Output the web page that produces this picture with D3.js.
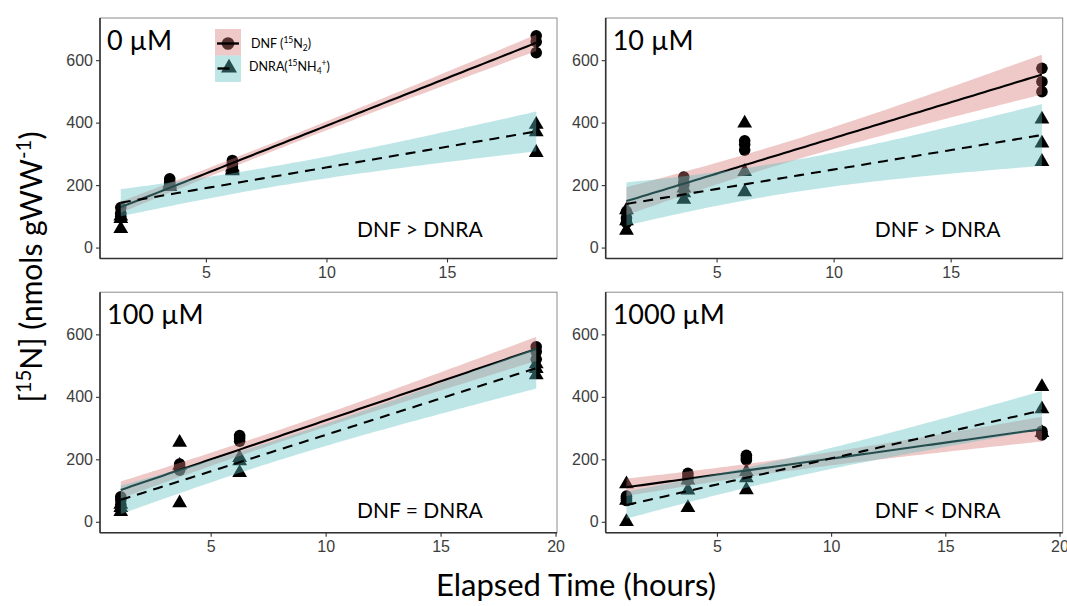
<!DOCTYPE html>
<html>
<head>
<meta charset="utf-8">
<script src="https://cdn.jsdelivr.net/npm/d3@7"></script>
<style>
  body { margin: 0; background: #fff; }
  svg { display: block; }
</style>
</head>
<body>
<svg id="chart" width="1067" height="606"></svg>
<script>
// ---- data --------------------------------------------------------------
const panelLabels = ["0 µM", "10 µM", "100 µM", "1000 µM"];
const comparisonLabels = ["DNF > DNRA", "DNF > DNRA", "DNF = DNRA", "DNF < DNRA"];

// sampling times (hours) for each nitrate treatment
const times0 = [1.47, 3.5, 6.1, 18.7];
const times10 = [1.15, 3.6, 6.2, 18.9];
const times100 = [1.09, 3.65, 6.26, 19.16];
const times1000 = [1.04, 3.73, 6.29, 19.23];

// triplicate [15N] production (nmols gWW-1) at each sampling time
const dnf0 = [[128, 110, 100], [220, 210, 205], [279, 270, 258], [678, 659, 624]];
const dnra0 = [[100, 92, 60], [205, 200, 195], [257, 250, 245], [394, 370, 304]];
const dnf10 = [[115, 95, 80], [226, 210, 200], [342, 330, 312], [574, 531, 499]];
const dnra10 = [[120, 85, 55], [190, 175, 154], [398, 243, 178], [411, 334, 275]];
const dnf100 = [[80, 70, 55], [185, 175, 165], [276, 268, 258], [560, 545, 520]];
const dnra100 = [[55, 45, 32], [254, 180, 60], [205, 195, 157], [505, 490, 470]];
const dnf1000 = [[82, 75, 68], [155, 145, 135], [213, 205, 198], [290, 283, 278]];
const dnra1000 = [[121, 68, 0], [133, 101, 45], [160, 140, 102], [432, 361, 285]];

const yTicks = [0, 200, 400, 600];
const xTicks = [5, 10, 15, 20];
const yLimits = [0, 700];

// ---- layout ------------------------------------------------------------
const svg = d3.select("#chart");
const panelW = 457, panelH = 240.5;
const colLeft = [100, 605.7];
const rowTop = [18, 292.2];
const tCrit = 2.228; // two-sided 95% t quantile, 10 df (12 obs, 2 params)

const dnfFill = "rgb(215,117,117)";
const dnraFill = "rgb(95,192,195)";
const bandAlpha = 0.4;
const textFont = "Lato, 'Open Sans', sans-serif";
const tickFont = "'Liberation Sans', Arial, sans-serif";

const panels = [
  { label: panelLabels[0], cmp: comparisonLabels[0], t: times0, dnf: dnf0, dnra: dnra0, col: 0, row: 0, cmpX: 257, cmpDy: 22 },
  { label: panelLabels[1], cmp: comparisonLabels[1], t: times10, dnf: dnf10, dnra: dnra10, col: 1, row: 0, cmpX: 269, cmpDy: 22 },
  { label: panelLabels[2], cmp: comparisonLabels[2], t: times100, dnf: dnf100, dnra: dnra100, col: 0, row: 1, cmpX: 257, cmpDy: 14.5 },
  { label: panelLabels[3], cmp: comparisonLabels[3], t: times1000, dnf: dnf1000, dnra: dnra1000, col: 1, row: 1, cmpX: 269, cmpDy: 14.5 }
];

// ordinary least squares fit with 95% confidence band
function fitLinear(times, reps) {
  const pts = times.flatMap((ti, i) => reps[i].map(v => [ti, v]));
  const n = pts.length;
  const mx = d3.mean(pts, d => d[0]);
  const my = d3.mean(pts, d => d[1]);
  const sxx = d3.sum(pts, d => (d[0] - mx) ** 2);
  const sxy = d3.sum(pts, d => (d[0] - mx) * (d[1] - my));
  const b = sxy / sxx, a = my - b * mx;
  const s = Math.sqrt(d3.sum(pts, d => (d[1] - a - b * d[0]) ** 2) / (n - 2));
  const lo = d3.min(times), hi = d3.max(times);
  const band = d3.range(80).map(i => {
    const x = lo + (hi - lo) * i / 79;
    const yh = a + b * x;
    const se = s * Math.sqrt(1 / n + (x - mx) ** 2 / sxx);
    return { x, y: yh, lo: yh - tCrit * se, hi: yh + tCrit * se };
  });
  return { pts, band };
}

function expand(lo, hi) {
  const pad = (hi - lo) * 0.05;
  return [lo - pad, hi + pad];
}

panels.forEach(p => {
  const left = colLeft[p.col], top = rowTop[p.row];
  const x = d3.scaleLinear().domain(expand(d3.min(p.t), d3.max(p.t))).range([left, left + panelW]);
  const y = d3.scaleLinear().domain(expand(yLimits[0], yLimits[1])).range([top + panelH, top]);
  const g = svg.append("g");

  const dnfFit = fitLinear(p.t, p.dnf);
  const dnraFit = fitLinear(p.t, p.dnra);

  // observations
  g.selectAll("circle.obs").data(dnfFit.pts).join("circle")
    .attr("class", "obs")
    .attr("cx", d => x(d[0])).attr("cy", d => y(d[1])).attr("r", 5.8)
    .attr("fill", "#000");
  const tri = d3.symbol().type(d3.symbolTriangle).size(95);
  g.selectAll("path.obs").data(dnraFit.pts).join("path")
    .attr("class", "obs")
    .attr("d", tri)
    .attr("transform", d => `translate(${x(d[0])},${y(d[1])})`)
    .attr("fill", "#000");

  const area = d3.area().x(d => x(d.x)).y0(d => y(d.lo)).y1(d => y(d.hi));
  const line = d3.line().x(d => x(d.x)).y(d => y(d.y));

  // DNF band + fit
  g.append("path").datum(dnfFit.band).attr("d", area)
    .attr("fill", dnfFill).attr("fill-opacity", bandAlpha);
  g.append("path").datum(dnfFit.band).attr("d", line)
    .attr("fill", "none").attr("stroke", "#000").attr("stroke-width", 2.1);

  // DNRA band + fit
  g.append("path").datum(dnraFit.band).attr("d", area)
    .attr("fill", dnraFill).attr("fill-opacity", bandAlpha);
  g.append("path").datum(dnraFit.band).attr("d", line)
    .attr("fill", "none").attr("stroke", "#000").attr("stroke-width", 2.1)
    .attr("stroke-dasharray", "10,7");

  // panel border
  g.append("rect")
    .attr("x", left).attr("y", top).attr("width", panelW).attr("height", panelH)
    .attr("fill", "none").attr("stroke", "#8c8c8c").attr("stroke-width", 1);

  // axes
  const xDom = x.domain();
  const xAxis = d3.axisBottom(x).tickValues(xTicks.filter(v => v >= xDom[0] && v <= xDom[1]))
    .tickSize(4).tickPadding(4).tickSizeOuter(0);
  const yAxis = d3.axisLeft(y).tickValues(yTicks).tickSize(4).tickPadding(3).tickSizeOuter(0);

  const gx = g.append("g").attr("transform", `translate(0,${top + panelH})`).call(xAxis);
  const gy = g.append("g").attr("transform", `translate(${left},0)`).call(yAxis);
  [gx, gy].forEach(ax => {
    ax.select(".domain").remove();
    ax.selectAll(".tick line").attr("stroke", "#333").attr("stroke-width", 1.1);
    ax.selectAll(".tick text").attr("fill", "#3d3d3d")
      .style("font-family", tickFont).style("font-size", "16px");
  });
  g.append("line").attr("x1", left).attr("x2", left).attr("y1", top).attr("y2", top + panelH)
    .attr("stroke", "#333").attr("stroke-width", 1.6);
  g.append("line").attr("x1", left).attr("x2", left + panelW).attr("y1", top + panelH).attr("y2", top + panelH)
    .attr("stroke", "#333").attr("stroke-width", 1.6);

  // treatment label and comparison
  g.append("text").attr("x", left + 7).attr("y", top + 32)
    .style("font-family", textFont).style("font-size", "27px").attr("fill", "#000")
    .text(p.label);
  g.append("text").attr("x", left + p.cmpX).attr("y", top + panelH - p.cmpDy)
    .style("font-family", textFont).style("font-size", "21px").attr("fill", "#000")
    .text(p.cmp);
});

// ---- legend (inside first panel) ---------------------------------------
const lg = svg.append("g");
const keyX = 215, keyW = 26, keyH = 26.5, keyY = [29, 55.5];
// DNF key
lg.append("circle").attr("cx", keyX + 13).attr("cy", keyY[0] + 14.5).attr("r", 6.3).attr("fill", "#000");
lg.append("rect").attr("x", keyX).attr("y", keyY[0]).attr("width", keyW).attr("height", keyH)
  .attr("fill", dnfFill).attr("fill-opacity", bandAlpha);
lg.append("line").attr("x1", keyX + 2).attr("x2", keyX + keyW - 2)
  .attr("y1", keyY[0] + 14.5).attr("y2", keyY[0] + 14.5).attr("stroke", "#000").attr("stroke-width", 2.4);
// DNRA key
lg.append("path").attr("d", d3.symbol().type(d3.symbolTriangle).size(110))
  .attr("transform", `translate(${keyX + 14},${keyY[1] + 12.5})`).attr("fill", "#000");
lg.append("rect").attr("x", keyX).attr("y", keyY[1]).attr("width", keyW).attr("height", keyH)
  .attr("fill", dnraFill).attr("fill-opacity", bandAlpha);
lg.append("line").attr("x1", keyX + 2.5).attr("x2", keyX + 14.5)
  .attr("y1", keyY[1] + 13).attr("y2", keyY[1] + 13).attr("stroke", "#000").attr("stroke-width", 2.4);

// text with superscript / subscript runs; each run's dy returns from the previous shift
function richText(sel, parts, size) {
  const shift = { "": 0, sup: -size * 0.38, sub: size * 0.2 };
  let current = 0;
  parts.forEach(([txt, kind]) => {
    const target = shift[kind];
    const ts = sel.append("tspan").text(txt);
    if (target !== current) ts.attr("dy", target - current);
    if (kind) ts.style("font-size", (size * 0.68) + "px");
    current = target;
  });
}
const lgSize = 12.5;
const t1 = lg.append("text").attr("x", 251).attr("y", 48)
  .style("font-family", textFont).style("font-size", lgSize + "px").attr("fill", "#000");
richText(t1, [["DNF (", ""], ["15", "sup"], ["N", ""], ["2", "sub"], [")", ""]], lgSize);
const t2 = lg.append("text").attr("x", 249).attr("y", 71)
  .style("font-family", textFont).style("font-size", lgSize + "px").attr("fill", "#000");
richText(t2, [["DNRA(", ""], ["15", "sup"], ["NH", ""], ["4", "sub"], ["+", "sup"], [")", ""]], lgSize);

// ---- axis titles -------------------------------------------------------
svg.append("text").attr("x", 576).attr("y", 596).attr("text-anchor", "middle")
  .style("font-family", textFont).style("font-size", "31px").attr("fill", "#000")
  .text("Elapsed Time (hours)");

const ytSize = 30;
const yt = svg.append("text").attr("transform", "translate(42,267) rotate(-90)")
  .attr("text-anchor", "middle")
  .style("font-family", textFont).style("font-size", ytSize + "px").attr("fill", "#000");
richText(yt, [["[", ""], ["15", "sup"], ["N] (nmols gWW", ""], ["-1", "sup"], [")", ""]], ytSize);
</script>
</body>
</html>
